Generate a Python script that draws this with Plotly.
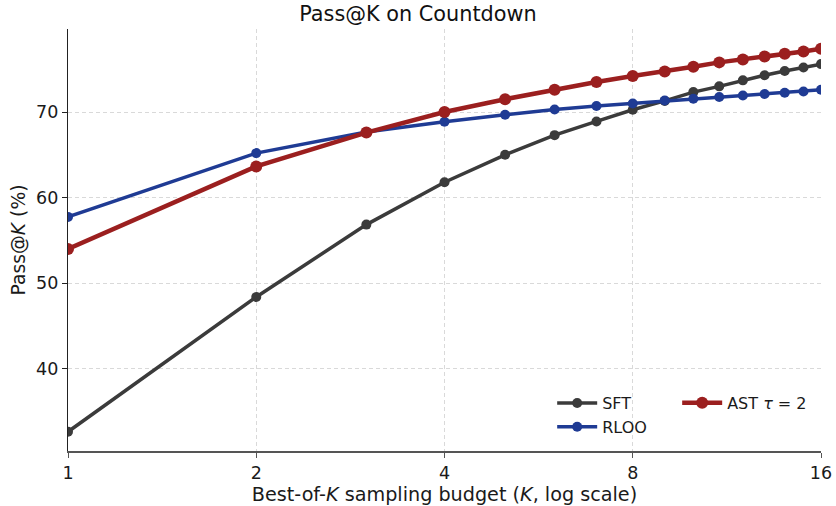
import plotly.graph_objects as go

K = [1, 2, 3, 4, 5, 6, 7, 8, 9, 10, 11, 12, 13, 14, 15, 16]
sft = [32.65, 48.4, 56.85, 61.8, 65.0, 67.3, 68.9, 70.27, 71.3, 72.33, 73.0, 73.7, 74.3, 74.8, 75.2, 75.6]
rloo = [57.75, 65.2, 67.67, 68.87, 69.68, 70.3, 70.7, 71.0, 71.35, 71.55, 71.75, 71.94, 72.1, 72.25, 72.4, 72.6]
ast = [54.0, 63.65, 67.6, 70.0, 71.5, 72.6, 73.5, 74.2, 74.74, 75.3, 75.8, 76.14, 76.5, 76.8, 77.07, 77.4]
x_ticks = [1, 2, 4, 8, 16]
y_ticks = [40, 50, 60, 70]

FONT = "DejaVu Sans"
C_SFT = "#3b3b3b"
C_RLOO = "#1f3b94"
C_AST = "#9b1f1f"

fig = go.Figure()
fig.add_trace(go.Scatter(x=K, y=sft, mode="lines+markers", name="SFT",
                         line=dict(color=C_SFT, width=3.5),
                         marker=dict(color=C_SFT, size=10), legend="legend"))
fig.add_trace(go.Scatter(x=K, y=rloo, mode="lines+markers", name="RLOO",
                         line=dict(color=C_RLOO, width=3.5),
                         marker=dict(color=C_RLOO, size=10), legend="legend"))
fig.add_trace(go.Scatter(x=K, y=ast, mode="lines+markers", name="AST <i>τ</i> = 2",
                         line=dict(color=C_AST, width=4.5),
                         marker=dict(color=C_AST, size=12), legend="legend2"))

grid = dict(showgrid=True, gridcolor="#d9d9d9", gridwidth=1, griddash="4px,3px")

fig.update_layout(
    width=836, height=506,
    margin=dict(l=68, r=15, t=29, b=55, autoexpand=False),
    paper_bgcolor="white", plot_bgcolor="white",
    font=dict(family=FONT, size=17, color="#1a1a1a"),
    title=dict(text="Pass@K on Countdown", x=0.5, xanchor="center",
               y=0.972, yanchor="middle", font=dict(size=20.8, color="#111")),
    xaxis=dict(type="log", range=[0, 1.2041200], tickvals=x_ticks,
               ticktext=[str(v) for v in x_ticks], automargin=False,
               tickfont=dict(size=17.5),
               showline=True, linecolor="#555555", linewidth=2,
               ticks="outside", ticklen=5, tickcolor="#555555", tickwidth=1.2,
               zeroline=False,
               title=dict(text="Best-of-<i>K</i> sampling budget (<i>K</i>, log scale)",
                          font=dict(size=19.2), standoff=6),
               **grid),
    yaxis=dict(range=[30.4, 79.7], tickvals=y_ticks, automargin=False,
               tickfont=dict(size=17.5),
               showline=True, linecolor="#222222", linewidth=1.3,
               ticks="outside", ticklen=5, tickcolor="#222222", tickwidth=1.2,
               zeroline=False,
               title=dict(text="Pass@<i>K</i> (%)", font=dict(size=18.8), standoff=5),
               **grid),
    legend=dict(x=0.643, y=0.085, xanchor="left", yanchor="middle",
                bgcolor="rgba(0,0,0,0)", font=dict(size=16), tracegroupgap=0,
                itemwidth=40),
    legend2=dict(x=0.809, y=0.114, xanchor="left", yanchor="middle",
                 bgcolor="rgba(0,0,0,0)", font=dict(size=16), itemwidth=40),
)
fig.write_html("out.html", config={"displayModeBar": False},
               post_script="document.body.style.margin='0';document.body.style.padding='0';")
